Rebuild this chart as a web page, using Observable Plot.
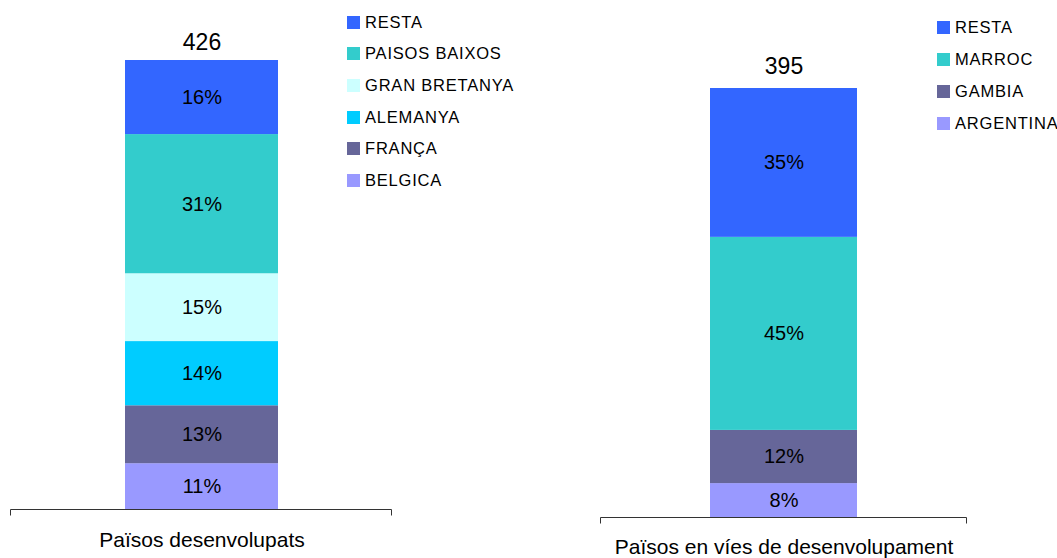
<!DOCTYPE html>
<html>
<head>
<meta charset="utf-8">
<script src="https://cdn.jsdelivr.net/npm/d3@7"></script>
<script src="https://cdn.jsdelivr.net/npm/@observablehq/plot@0.6"></script>
<style>
  html, body { margin: 0; padding: 0; background: #fff; }
  #wrap { position: relative; width: 1057px; height: 558px; font-family: "Liberation Sans", Arial, sans-serif; }
  .plot { position: absolute; top: 0; }
  .legend { position: absolute; }
  .row { position: absolute; left: 0; height: 20px; display: flex; align-items: center; white-space: nowrap;
         font-size: 16.5px; letter-spacing: 0.8px; color: #000; }
  .sw { width: 13px; height: 13px; margin-right: 5px; flex: none; }
</style>
</head>
<body>
<div id="wrap"></div>
<script>
// ---- data ----
const leftGroup = "Països desenvolupats";
const leftTotal = 426;
const leftCategories = ["RESTA", "PAISOS BAIXOS", "GRAN BRETANYA", "ALEMANYA", "FRANÇA", "BELGICA"];
const leftShares = [16.5, 31.0, 15.1, 14.3, 12.9, 10.2];      // segment sizes (%)
const leftLabels = ["16%", "31%", "15%", "14%", "13%", "11%"]; // printed labels
const leftColors = ["#3366FF", "#33CCCC", "#CCFFFF", "#00CCFF", "#666699", "#9999FF"];

const rightGroup = "Països en víes de desenvolupament";
const rightTotal = 395;
const rightCategories = ["RESTA", "MARROC", "GAMBIA", "ARGENTINA"];
const rightShares = [34.7, 45.0, 12.4, 7.9];
const rightLabels = ["35%", "45%", "12%", "8%"];
const rightColors = ["#3366FF", "#33CCCC", "#666699", "#9999FF"];

const wrap = document.getElementById("wrap");

function axisLine(len) {
  return (index, scales, values, dims) => {
    const y = dims.height - dims.marginBottom + 0.5;
    const x1 = dims.marginLeft + 0.5, x2 = dims.width - dims.marginRight - 0.5;
    return d3.create("svg:path")
      .attr("d", `M${x1},${y + len}V${y}H${x2}V${y + len}`)
      .attr("stroke", "#333").attr("stroke-width", 1).attr("fill", "none").node();
  };
}

function panel(o) {
  const sum = d3.sum(o.shares);
  // stacking from the bottom: reverse legend order
  const rows = o.categories.map((c, i) => ({
    group: o.group, cat: c,
    value: o.total * o.shares[i] / sum, label: o.labels[i]
  })).reverse();
  const chart = Plot.plot({
    width: o.width, height: 558,
    marginLeft: o.ml, marginRight: o.mr, marginTop: o.mt, marginBottom: o.mb,
    style: { fontFamily: "'Liberation Sans', Arial, sans-serif", color: "#000", background: "transparent" },
    x: { type: "band", domain: [o.group], padding: 0.427, label: null },
    y: { domain: [0, o.total], axis: null },
    color: { domain: o.categories, range: o.colors },
    marks: [
      Plot.barY(rows, { x: "group", y: "value", fill: "cat", order: null }),
      Plot.text(rows, Plot.stackY({ x: "group", y: "value", text: "label", fontSize: 20, fill: "#000", order: null })),
      Plot.text([o.total], { x: () => o.group, y: d => d, text: d => String(d), dy: o.totalDy, fontSize: 23, fill: "#000" }),
      Plot.axisX({ tickSize: 0, tickPadding: o.tp, fontSize: 21, label: null }),
      axisLine(6)
    ]
  });
  chart.classList.add("plot");
  chart.style.left = o.left + "px";
  wrap.appendChild(chart);

  const lg = document.createElement("div");
  lg.className = "legend";
  lg.style.left = o.legX + "px";
  lg.style.top = "0px";
  o.categories.forEach((c, i) => {
    const r = document.createElement("div");
    r.className = "row";
    r.style.top = (o.legY0 + i * o.legStep - 10) + "px";
    const sw = document.createElement("span");
    sw.className = "sw";
    sw.style.background = o.colors[i];
    const t = document.createElement("span");
    t.textContent = c;
    r.appendChild(sw); r.appendChild(t);
    lg.appendChild(r);
  });
  wrap.appendChild(lg);
}

panel({ group: leftGroup, total: leftTotal, categories: leftCategories, shares: leftShares, labels: leftLabels, colors: leftColors,
  left: 0, width: 400, ml: 10, mr: 8, mt: 60, mb: 49, tp: 23, totalDy: -18,
  legX: 347, legY0: 22, legStep: 31.7 });
panel({ group: rightGroup, total: rightTotal, categories: rightCategories, shares: rightShares, labels: rightLabels, colors: rightColors,
  left: 590, width: 387, ml: 10, mr: 10, mt: 88, mb: 41, tp: 22, totalDy: -22,
  legX: 937, legY0: 27, legStep: 32.3 });
</script>
</body>
</html>
